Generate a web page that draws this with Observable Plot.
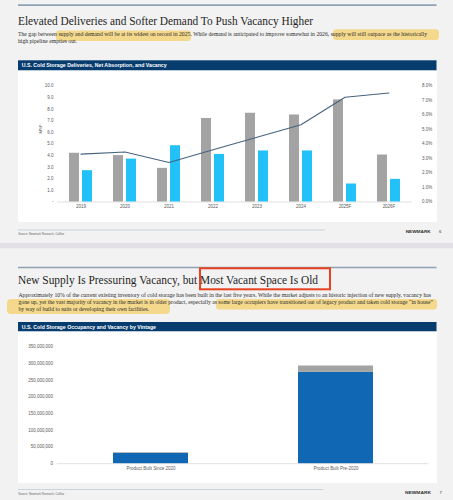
<!DOCTYPE html>
<html><head><meta charset="utf-8">
<script src="https://cdn.jsdelivr.net/npm/d3@7"></script>
<script src="https://cdn.jsdelivr.net/npm/@observablehq/plot@0.6"></script>
<style>
html,body{margin:0;padding:0;background:#f2f2f2}
#page{position:relative;width:453px;height:500px;overflow:hidden;background:#f2f2f2}
#page svg{position:absolute}
</style></head><body><div id="page"></div>
<script>
// ---------- Chart 1 data ----------
const years = ["2019","2020","2021","2022","2023","2024","2025F","2026F"];
const deliveries = [4.2, 4.0, 2.9, 7.2, 7.65, 7.5, 8.8, 4.05];
const netAbsorption = [2.7, 3.7, 4.85, 4.1, 4.4, 4.4, 1.55, 1.95];
const vacancyPct = [3.3, 3.45, 2.72, 3.6, 4.46, 5.33, 7.22, 7.52];
const msfTicks = [0,1,2,3,4,5,6,7,8,9,10];
const vacancyTicks = [0,1,2,3,4,5,6,7,8];
const seriesNames1 = ["Deliveries (MSF)", "Net Absorption", "Vacancy"];

// ---------- Chart 2 data ----------
const vintages = ["Product Built Since 2020", "Product Built Pre-2020"];
const occupied = [31e6, 274e6];
const vacant = [2e6, 19e6];
const statuses = ["Occupied", "Vacant"];
const sfTicks = [0, 50e6, 100e6, 150e6, 200e6, 250e6, 300e6, 350e6];

// ---------- Slide text ----------
const title1 = "Elevated Deliveries and Softer Demand To Push Vacancy Higher";
const body1 = [
  "The gap between supply and demand will be at its widest on record in 2025. While demand is anticipated to improve somewhat in 2026, supply will still outpace as the historically",
  "high pipeline empties out."
];
const header1 = "U.S. Cold Storage Deliveries, Net Absorption, and Vacancy";
const title2 = "New Supply Is Pressuring Vacancy, but Most Vacant Space Is Old";
const body2 = [
  "Approximately 10% of the current existing inventory of cold storage has been built in the last five years. While the market adjusts to an historic injection of new supply, vacancy has",
  "gone up, yet the vast majority of vacancy in the market is in older product, especially as some large occupiers have transitioned out of legacy product and taken cold storage \u201cin house\u201d",
  "by way of build to suits or developing their own facilities."
];
const header2 = "U.S. Cold Storage Occupancy and Vacancy by Vintage";
const sourceText = "Source: Newmark Research, CoStar";

// colours
const NAVY = "#073d6e", GRAY = "#a3a3a3", CYAN = "#22c1f7", LINE = "#46637f", BLUE = "#1067b4";
const SANS = "Liberation Sans, Arial, sans-serif", SERIF = "Liberation Serif, Times New Roman, serif";

const page = document.getElementById("page");
const svg = d3.create("svg").attr("width", 453).attr("height", 500).style("left","0px").style("top","0px");
page.appendChild(svg.node());

function rect(x, y, w, h, fill, extra = {}) {
  const r = svg.append("rect").attr("x", x).attr("y", y).attr("width", w).attr("height", h).attr("fill", fill);
  for (const k in extra) r.attr(k, extra[k]);
  return r;
}
function line(x1, y1, x2, y2, stroke, w) {
  return svg.append("line").attr("x1", x1).attr("y1", y1).attr("x2", x2).attr("y2", y2).attr("stroke", stroke).attr("stroke-width", w);
}
function text(x, y, s, o = {}) {
  const t = svg.append("text").attr("x", x).attr("y", y).text(s)
    .attr("font-family", o.family || SANS).attr("font-size", o.size || 4.5)
    .attr("font-weight", o.weight || 400).attr("fill", o.fill || "#595959")
    .attr("text-anchor", o.anchor || "start");
  if (o.len) t.attr("textLength", o.len).attr("lengthAdjust", "spacingAndGlyphs");
  if (o.baseline) t.attr("dominant-baseline", o.baseline);
  if (o.spacing) t.attr("letter-spacing", o.spacing);
  return t;
}

// backgrounds
rect(0, 0, 453, 243, "#f2f2f2");
rect(0, 243, 453, 5.5, "#e2e0e6");
rect(0, 248.5, 453, 251.5, "#f2f2f2");

// ----- Slide 1 -----
line(18, 5.2, 436.5, 5.2, "#8ea2b4", 1.7);
const HL = "#f5cf63";
rect(56, 30.5, 135, 10.5, HL, {opacity: 0.7, rx: 3});
rect(333, 29.3, 106, 10.8, HL, {opacity: 0.7, rx: 3});
text(18, 24.5, title1, {family: SERIF, size: 12, fill: "#1f1f1f", len: 295});
text(18, 35.6, body1[0], {family: SERIF, size: 5.8, fill: "#2a2a2a", len: 409});
text(18, 42.6, body1[1], {family: SERIF, size: 5.8, fill: "#2a2a2a", len: 59});
rect(18, 60.3, 418.5, 10.2, NAVY);
text(21.7, 67.4, header1, {weight: 700, size: 4.7, fill: "#ffffff", len: 145});
rect(18, 70.5, 418.5, 151.2, "#ffffff");
// legend 1
line(165, 216.3, 172.3, 216.3, GRAY, 1.6);
text(173.3, 216.3, seriesNames1[0], {baseline: "central", len: 32.4});
line(212.7, 216.3, 221.7, 216.3, CYAN, 2);
text(222.7, 216.3, seriesNames1[1], {baseline: "central", len: 28.3});
line(260, 216.3, 267.7, 216.3, LINE, 0.8);
text(268.7, 216.3, seriesNames1[2], {baseline: "central", len: 17.3});
// footer 1
line(18, 230, 325, 230, "#c9d3de", 1);
text(18.3, 235, sourceText, {size: 3.2, fill: "#666", len: 46});
text(405.7, 232.6, "NEWMARK", {weight: 700, size: 4.3, fill: "#333", len: 25});
text(439, 232.6, "6", {size: 4.3, fill: "#333"});

// ----- Slide 2 -----
line(18, 267.5, 436.5, 267.5, "#8ea2b4", 1.7);
rect(7, 299, 163, 15, HL, {opacity: 0.7, rx: 4});
rect(216, 299, 221, 10.5, HL, {opacity: 0.7, rx: 3});
text(18, 284.3, title2, {family: SERIF, size: 12, fill: "#1f1f1f", len: 300});
svg.append("rect").attr("x", 200).attr("y", 268.3).attr("width", 130).attr("height", 21)
  .attr("fill", "none").attr("stroke", "#e8411f").attr("stroke-width", 2);
text(18.5, 296.6, body2[0], {family: SERIF, size: 5.8, fill: "#2a2a2a", len: 412.5});
text(18.5, 303.9, body2[1], {family: SERIF, size: 5.8, fill: "#2a2a2a", len: 414.5});
text(18.5, 311.2, body2[2], {family: SERIF, size: 5.8, fill: "#2a2a2a", len: 130.5});
rect(18, 322, 418.5, 9.5, NAVY);
text(21.7, 328.6, header2, {weight: 700, size: 4.7, fill: "#ffffff", len: 134.3});
rect(18, 331.5, 418.5, 151.2, "#ffffff");
// legend 2
rect(207.7, 475.9, 2.2, 2.2, BLUE);
text(210.8, 477, statuses[0], {baseline: "central", len: 17.5});
rect(233.2, 475.9, 1.6, 1.6, GRAY);
text(235.2, 477, statuses[1], {baseline: "central", len: 14.8});
// footer 2
line(18, 489.5, 323, 489.5, "#c9d3de", 1);
text(18.3, 495, sourceText, {size: 3.2, fill: "#666", len: 46});
text(405, 493.8, "NEWMARK", {weight: 700, size: 4.3, fill: "#333", len: 26});
text(439.5, 493.8, "7", {size: 4.3, fill: "#333"});

// ---------- Chart 1 (Plot) ----------
const rows1 = years.map((year, i) => ({year, deliveries: deliveries[i], absorption: netAbsorption[i], vacancy: vacancyPct[i]}));
const k = 10 / 8; // vacancy % axis shares the MSF frame: 8% at the top, 0% at the base
const chart1 = Plot.plot({
  width: 418.5, height: 151.2,
  marginTop: 14.5, marginBottom: 20.7, marginLeft: 39, marginRight: 24.5,
  style: {position: "absolute", left: "18px", top: "70.5px", background: "white", fontFamily: SANS, fontSize: "4.5px", color: "#595959", overflow: "visible"},
  x: {type: "band", domain: years, paddingInner: 0.4824, paddingOuter: 0.2412},
  y: {domain: [0, 10]},
  marks: [
    Plot.ruleY([0], {stroke: "#d9d9d9", strokeWidth: 0.8}),
    Plot.barY(rows1, {x: "year", y: "deliveries", fill: GRAY, insetRight: 13}),
    Plot.barY(rows1, {x: "year", y: "absorption", fill: CYAN, insetLeft: 13}),
    Plot.line(rows1, {x: "year", y: d => d.vacancy * k, stroke: LINE, strokeWidth: 1.1}),
    Plot.axisX({tickSize: 0, tickPadding: 3.2, label: null, fontSize: 4.5}),
    Plot.axisY({ticks: msfTicks, tickFormat: d => d === 0 ? "-" : d.toFixed(1), tickSize: 0, tickPadding: 4, label: null, fontSize: 4.5}),
    Plot.axisY({anchor: "right", ticks: vacancyTicks.map(v => v * k), tickFormat: d => (d / k).toFixed(1) + "%", tickSize: 0, tickPadding: 9.5, label: null, fontSize: 4.5}),
    Plot.text(["MSF"], {frameAnchor: "left", dx: -17, dy: -10.5, rotate: -90, fontSize: 4.3, fill: "#595959"})
  ]
});
page.appendChild(chart1);

// ---------- Chart 2 (Plot) ----------
const rows2 = [];
vintages.forEach((v, i) => {
  rows2.push({vintage: v, status: statuses[0], value: occupied[i]});
  rows2.push({vintage: v, status: statuses[1], value: vacant[i]});
});
const chart2 = Plot.plot({
  width: 418.5, height: 151.2,
  marginTop: 14.5, marginBottom: 20, marginLeft: 38.6, marginRight: 8,
  style: {position: "absolute", left: "18px", top: "331.5px", background: "white", fontFamily: SANS, fontSize: "4.5px", color: "#595959", overflow: "visible"},
  x: {type: "band", domain: vintages, paddingInner: 0.596, paddingOuter: 0.298},
  y: {domain: [0, 350e6]},
  color: {domain: statuses, range: [BLUE, GRAY]},
  marks: [
    Plot.ruleY([0], {stroke: "#d9d9d9", strokeWidth: 0.8}),
    Plot.barY(rows2, {x: "vintage", y: "value", fill: "status"}),
    Plot.axisX({tickSize: 0, tickPadding: 3.2, label: null, fontSize: 4.5}),
    Plot.axisY({ticks: sfTicks, tickFormat: d3.format(","), tickSize: 0, tickPadding: 4, label: null, fontSize: 4.5})
  ]
});
page.appendChild(chart2);
</script></body></html>
